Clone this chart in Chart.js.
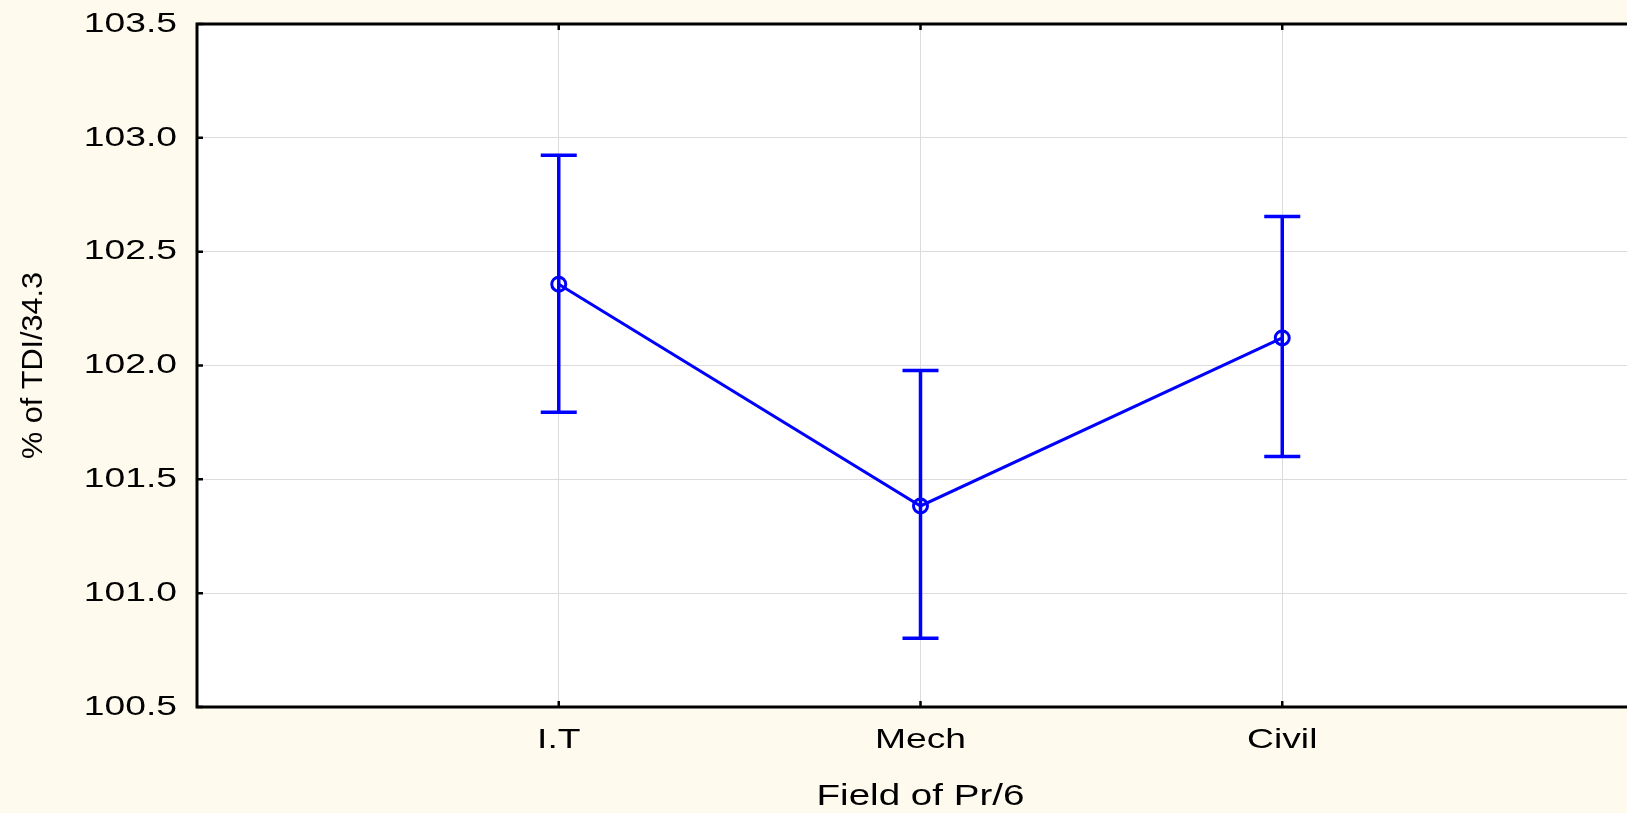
<!DOCTYPE html>
<html lang="en">
<head>
    <meta charset="UTF-8">
    <title>Field of Pr/6</title>
    <script src="https://cdn.jsdelivr.net/npm/chart.js"></script>
    <style>
        body {
            margin: 0;
            overflow: hidden;
            background: #fffaee;
        }
        #meanChart {
            display: block;
        }
    </style>
</head>
<body>
    <canvas id="meanChart" width="1660" height="813"></canvas>

    <script>
        // values
        const categories = ['I.T', 'Mech', 'Civil'];
        const means = [102.357, 101.383, 102.121];
        const upper = [102.924, 101.978, 102.655];
        const lower = [101.795, 100.802, 101.600];
        const yTicks = [100.5, 101.0, 101.5, 102.0, 102.5, 103.0, 103.5];

        const FONT = '"Liberation Sans", Arial, sans-serif';
        const BLUE = '#0000ff';

        const ctx = document.getElementById('meanChart').getContext('2d');

        // the original export draws its text horizontally stretched
        let textStretch = 1.33;
        const baseFillText = CanvasRenderingContext2D.prototype.fillText;
        ctx.fillText = function (text, x, y, maxWidth) {
            this.save();
            this.translate(x, y);
            this.scale(textStretch, 1);
            if (maxWidth === undefined) {
                baseFillText.call(this, text, 0, 0);
            } else {
                baseFillText.call(this, text, 0, 0, maxWidth / textStretch);
            }
            this.restore();
        };

        function stretchTitle(scale, s) {
            if (scale._stretched) return;
            const drawTitle = scale.drawTitle;
            scale.drawTitle = function () {
                const old = textStretch;
                textStretch = s;
                drawTitle.call(this);
                textStretch = old;
            };
            scale._stretched = true;
        }

        // white plot area
        const backdrop = {
            id: 'backdrop',
            beforeDraw(chart) {
                const {ctx, chartArea: a} = chart;
                ctx.save();
                ctx.fillStyle = '#ffffff';
                ctx.fillRect(a.left, a.top, a.right - a.left, a.bottom - a.top);
                ctx.restore();
                stretchTitle(chart.scales.y, 1.02);
            }
        };

        // error bars from the lower/upper arrays
        const errorBars = {
            id: 'errorBars',
            afterDatasetsDraw(chart) {
                const {ctx, scales: {x, y}} = chart;
                ctx.save();
                ctx.strokeStyle = BLUE;
                ctx.lineWidth = 3.5;
                categories.forEach((c, i) => {
                    const px = x.getPixelForValue(i + 1);
                    const top = y.getPixelForValue(upper[i]);
                    const bot = y.getPixelForValue(lower[i]);
                    ctx.beginPath();
                    ctx.moveTo(px, top);
                    ctx.lineTo(px, bot);
                    ctx.moveTo(px - 18, top);
                    ctx.lineTo(px + 18, top);
                    ctx.moveTo(px - 18, bot);
                    ctx.lineTo(px + 18, bot);
                    ctx.stroke();
                });
                ctx.restore();
            }
        };

        // black frame with small inward ticks
        const frame = {
            id: 'frame',
            afterDraw(chart) {
                const {ctx, chartArea: a, scales: {x, y}} = chart;
                ctx.save();
                ctx.strokeStyle = '#000000';
                ctx.lineWidth = 3;
                ctx.strokeRect(a.left, a.top, a.right - a.left, a.bottom - a.top);
                ctx.lineWidth = 2.5;
                ctx.beginPath();
                yTicks.forEach(v => {
                    const py = y.getPixelForValue(v);
                    ctx.moveTo(a.left, py);
                    ctx.lineTo(a.left + 6, py);
                });
                categories.forEach((c, i) => {
                    const px = x.getPixelForValue(i + 1);
                    ctx.moveTo(px, a.bottom);
                    ctx.lineTo(px, a.bottom - 6);
                    ctx.moveTo(px, a.top);
                    ctx.lineTo(px, a.top + 6);
                });
                ctx.stroke();
                ctx.restore();
            }
        };

        const meanChart = new Chart(ctx, {
            type: 'line',
            data: {
                datasets: [{
                    data: means.map((m, i) => ({x: i + 1, y: m})),
                    borderColor: BLUE,
                    borderWidth: 3,
                    pointRadius: 7,
                    pointBorderWidth: 3,
                    pointBorderColor: BLUE,
                    pointBackgroundColor: 'rgba(0,0,0,0)',
                    tension: 0
                }]
            },
            options: {
                responsive: false,
                animation: false,
                devicePixelRatio: 1,
                layout: {
                    padding: {top: 24, right: 16, bottom: 0, left: 0}
                },
                plugins: {
                    legend: {display: false},
                    tooltip: {enabled: false}
                },
                scales: {
                    x: {
                        type: 'linear',
                        min: 0,
                        max: 4,
                        afterBuildTicks: s => { s.ticks = categories.map((c, i) => ({value: i + 1})); },
                        afterFit: s => { s.height = 106; s.paddingLeft = 0; s.paddingRight = 0; },
                        ticks: {
                            callback: v => categories[v - 1] || '',
                            color: '#000000',
                            font: {family: FONT, size: 28},
                            padding: 16,
                            maxRotation: 0,
                            autoSkip: false
                        },
                        grid: {color: '#dcdcdc', lineWidth: 1, drawTicks: false},
                        border: {display: false},
                        title: {
                            display: true,
                            text: 'Field of Pr/6',
                            color: '#000000',
                            font: {family: FONT, size: 29, lineHeight: 1.1},
                            padding: {top: 0, bottom: 0}
                        }
                    },
                    y: {
                        min: 100.5,
                        max: 103.5,
                        afterBuildTicks: s => { s.ticks = yTicks.map(v => ({value: v})); },
                        afterFit: s => { s.width = 197; s.paddingTop = 0; s.paddingBottom = 0; },
                        ticks: {
                            callback: v => v.toFixed(1),
                            color: '#000000',
                            font: {family: FONT, size: 28},
                            padding: 20
                        },
                        grid: {color: '#dcdcdc', lineWidth: 1, drawTicks: false},
                        border: {display: false},
                        title: {
                            display: true,
                            text: '% of TDI/34.3',
                            color: '#000000',
                            font: {family: FONT, size: 30},
                            padding: {top: 16, bottom: 0}
                        }
                    }
                }
            },
            plugins: [backdrop, errorBars, frame]
        });
    </script>
</body>
</html>
